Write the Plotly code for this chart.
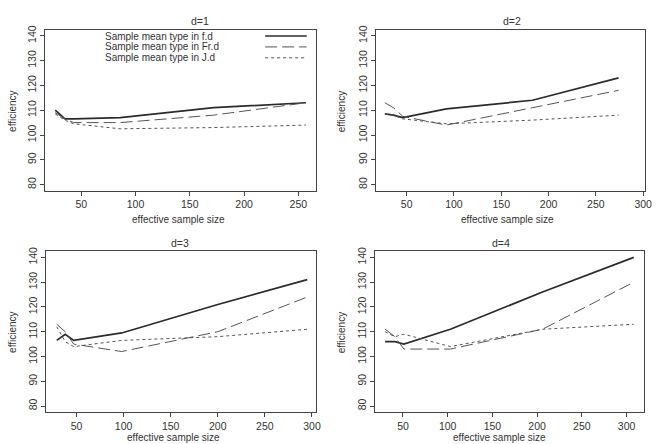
import plotly.graph_objects as go

W, H = 661, 444

# ---- data ----
x_d1 = [26, 35, 43, 86, 172, 257]
f_d1 = [110, 106.5, 106.5, 107, 111, 113]
fr_d1 = [109, 106.5, 105, 105, 108, 113]
j_d1 = [108.5, 106, 104.5, 102.5, 103, 104]

x_d2 = [27, 36, 46, 92, 183, 274]
f_d2 = [108.5, 108, 107, 110.5, 114, 123]
fr_d2 = [113, 111, 107.5, 104, 111, 118]
j_d2 = [108.5, 108, 106.5, 104.5, 106, 108]

x_d3 = [29, 38, 47, 98, 200, 295]
f_d3 = [106.5, 109, 106.5, 109.5, 121, 131]
fr_d3 = [113, 110, 105, 102, 110, 124]
j_d3 = [112, 106, 104, 106.5, 108, 111]

x_d4 = [30, 41, 51, 103, 206, 308]
f_d4 = [106, 106, 105, 111, 126, 140]
fr_d4 = [111, 108, 103, 103, 111, 130]
j_d4 = [110, 108, 109, 104, 111, 113]

titles = ["d=1", "d=2", "d=3", "d=4"]
series_names = ["Sample mean type in f.d", "Sample mean type in Fr.d", "Sample mean type in J.d"]
x_ticks_d1 = [50, 100, 150, 200, 250]
x_ticks_other = [50, 100, 150, 200, 250, 300]
y_ticks = [80, 90, 100, 110, 120, 130, 140]

panels = [
    (x_d1, f_d1, fr_d1, j_d1),
    (x_d2, f_d2, fr_d2, j_d2),
    (x_d3, f_d3, fr_d3, j_d3),
    (x_d4, f_d4, fr_d4, j_d4),
]

# ---- layout geometry (pixels) ----
boxes = [  # left, right, top, bottom
    (45.7, 319.3, 26, 188.3),
    (380, 652, 26, 188.3),
    (46.7, 319.3, 249.7, 411.7),
    (379, 651, 249.7, 411.7),
]
x_ranges = [[16.8, 266.2], [17.6, 302], [17.8, 304.2], [18.7, 319.6]]
y_range = [77.6, 142.4]

styles = [
    dict(color="#2b2b2b", width=1.7, dash="solid"),
    dict(color="#555555", width=1.0, dash="12px,5px"),
    dict(color="#555555", width=1.0, dash="3px,3px"),
]

FONT = "Liberation Sans, Arial, Helvetica, sans-serif"
TXT = "#333333"

fig = go.Figure()
layout = dict(
    width=W, height=H, margin=dict(l=0, r=0, t=0, b=0),
    paper_bgcolor="white", plot_bgcolor="white", showlegend=False,
    font=dict(family=FONT, size=10, color=TXT),
)

annotations = []
for i, (p, box) in enumerate(zip(panels, boxes)):
    xs, f, fr, j = p
    n = i + 1
    xa = "xaxis" if n == 1 else f"xaxis{n}"
    ya = "yaxis" if n == 1 else f"yaxis{n}"
    xr = "x" if n == 1 else f"x{n}"
    yr = "y" if n == 1 else f"y{n}"
    for ys, st, nm in zip([f, fr, j], styles, series_names):
        fig.add_trace(go.Scatter(x=xs, y=ys, mode="lines", line=st, name=nm,
                                 xaxis=xr, yaxis=yr))
    l, r, t, b = box
    common = dict(showgrid=False, zeroline=False, showline=True, mirror=True,
                  linecolor="#444444", linewidth=1.3, ticks="outside", ticklen=4,
                  tickcolor="#444444", tickfont=dict(size=10.5, color=TXT, family=FONT))
    layout[xa] = dict(domain=[l / W, r / W], range=x_ranges[i], anchor=yr,
                      tickvals=x_ticks_d1 if n == 1 else x_ticks_other, **common)
    layout[ya] = dict(domain=[1 - b / H, 1 - t / H], range=y_range, anchor=xr,
                      tickvals=y_ticks, tickangle=-90, **common)

# titles and axis labels
title_pos = [(202, 17), (517, 17), (182, 241), (506, 241)]
xlab_pos = [(180, 217.5), (513, 217.5), (175, 437.5), (505, 437.5)]
ylab_pos = [(12, 108), (345, 108), (12, 331), (345, 331)]
for i in range(4):
    tx, ty = title_pos[i]
    annotations.append(dict(text=titles[i], x=tx / W, y=1 - ty / H, xref="paper", yref="paper",
                            showarrow=False, font=dict(size=10.5, color=TXT, family=FONT),
                            xanchor="center", yanchor="middle"))
    lx, ly = xlab_pos[i]
    annotations.append(dict(text="effective sample size", x=lx / W, y=1 - ly / H, xref="paper",
                            yref="paper", showarrow=False, font=dict(size=10, color=TXT, family=FONT),
                            xanchor="center", yanchor="middle"))
    yx, yy = ylab_pos[i]
    annotations.append(dict(text="efficiency", x=yx / W, y=1 - yy / H, xref="paper", yref="paper",
                            showarrow=False, textangle=-90, font=dict(size=10, color=TXT, family=FONT),
                            xanchor="center", yanchor="middle"))

# legend (top-left panel): text left, line sample right
leg_y = [32.3, 43.3, 54.3]
shapes = []
for nm, st, yy in zip(series_names, styles, leg_y):
    annotations.append(dict(text=nm, x=104 / W, y=1 - yy / H, xref="paper", yref="paper",
                            showarrow=False, xanchor="left", yanchor="middle",
                            font=dict(size=10, color=TXT, family=FONT)))
    shapes.append(dict(type="line", xref="paper", yref="paper",
                       x0=268 / W, x1=310 / W, y0=1 - yy / H, y1=1 - yy / H,
                       line=dict(color=st["color"], width=st["width"], dash=st["dash"])))

layout["annotations"] = annotations
layout["shapes"] = shapes
fig.update_layout(**layout)
fig.write_html("out.html")
